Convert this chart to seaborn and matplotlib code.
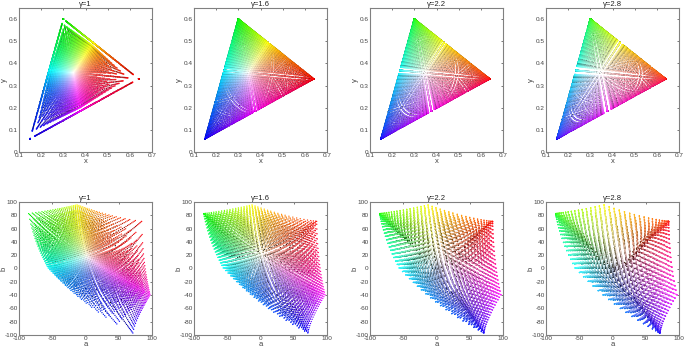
import numpy as np
import pandas as pd
import matplotlib
matplotlib.use("Agg")
import matplotlib.pyplot as plt
import seaborn as sns

rgb_levels = [0, 13, 26, 38, 51, 64, 77, 89, 102, 115, 128, 140, 153, 166, 179, 191, 204, 217, 230, 242, 255]
gammas = [1, 1.6, 2.2, 2.8]
gamma_labels = ["γ=1", "γ=1.6", "γ=2.2", "γ=2.8"]

# corners of the triangle and white point as read from the top row
red_xy = [0.64, 0.33]
green_xy = [0.30, 0.60]
blue_xy = [0.15, 0.06]
white_xy = [0.345, 0.358]
lab_white = [0.9505, 1.0, 1.089]

xy_xticks = [0.1, 0.2, 0.3, 0.4, 0.5, 0.6, 0.7]
xy_yticks = [0, 0.1, 0.2, 0.3, 0.4, 0.5, 0.6]
ab_xticks = [-100, -50, 0, 50, 100]
ab_yticks = [-100, -80, -60, -40, -20, 0, 20, 40, 60, 80, 100]

left_edges = [19, 194, 370, 546]
AX_W = 133
AX_H = 144
AX_H2 = 133
FIG_W = 685
FIG_H = 350


def rgb_to_xyz_matrix():
    """
    Matrix from linear RGB to XYZ, built from the primaries and the white point
    """
    prim = np.array([red_xy, green_xy, blue_xy])
    m = np.column_stack([prim[:, 0] / prim[:, 1], np.ones(3), (1 - prim.sum(axis=1)) / prim[:, 1]]).T
    w = np.array([white_xy[0] / white_xy[1], 1, (1 - sum(white_xy)) / white_xy[1]])
    return m * np.linalg.solve(m, w)


def lab_f(t):
    return np.where(t > 0.008856, np.cbrt(t), 7.787 * t + 16 / 116)


def make_points(gamma):
    """
    One row per cube point: xy, ab and the colour it is drawn with
    """
    r, g, b = np.meshgrid(rgb_levels, rgb_levels, rgb_levels, indexing="ij")
    rgb = np.column_stack([r.ravel(), g.ravel(), b.ravel()]) / 255
    rgb = rgb[rgb.sum(axis=1) > 0]
    rgb = rgb[np.argsort(rgb.sum(axis=1), kind="stable")]
    xyz = (rgb ** gamma) @ rgb_to_xyz_matrix().T
    total = xyz.sum(axis=1)
    fx = lab_f(xyz[:, 0] / lab_white[0])
    fy = lab_f(xyz[:, 1] / lab_white[1])
    fz = lab_f(xyz[:, 2] / lab_white[2])
    df = pd.DataFrame({
        "x": xyz[:, 0] / total,
        "y": xyz[:, 1] / total,
        "a": 500 * (fx - fy),
        "b": 200 * (fy - fz),
    })
    return df, rgb


def style_ax(ax, xlabel, ylabel, xticks, yticks, xlim, ylim, title):
    ax.set_xlim(xlim)
    ax.set_ylim(ylim)
    ax.set_xticks(xticks)
    ax.set_yticks(yticks)
    ax.set_xticklabels([f"{t:g}" for t in xticks])
    ax.set_yticklabels([f"{t:g}" for t in yticks])
    ax.set_xlabel(xlabel, fontsize=5.5, color="#444444", labelpad=0)
    ax.set_ylabel(ylabel, fontsize=5.5, color="#444444")
    ax.yaxis.set_label_coords(-11 / AX_W, 0.5)
    ax.set_title(title, fontsize=5.5, color="#222222", pad=1.5)
    ax.tick_params(direction="in", length=1.5, width=0.5, labelsize=4.6,
                   colors="#444444", top=True, right=True, pad=1)
    for s in ax.spines.values():
        s.set_color("#808080")
        s.set_linewidth(0.8)


sns.set_theme(style="white")
plt.rcParams["font.family"] = ["Liberation Sans", "DejaVu Sans"]

fig = plt.figure(figsize=(FIG_W / 100, FIG_H / 100), dpi=100)
for i, gamma in enumerate(gammas):
    df, colors = make_points(gamma)

    ax = fig.add_axes([left_edges[i] / FIG_W, 1 - 152 / FIG_H, AX_W / FIG_W, AX_H / FIG_H])
    sns.scatterplot(data=df, x="x", y="y", c=colors, s=1.2, linewidth=0, ax=ax)
    style_ax(ax, "x", "y", xy_xticks, xy_yticks, (0.1, 0.7), (0, 0.65), gamma_labels[i])

    ax = fig.add_axes([left_edges[i] / FIG_W, 1 - 335 / FIG_H, AX_W / FIG_W, AX_H2 / FIG_H])
    sns.scatterplot(data=df, x="a", y="b", c=colors, s=0.9, linewidth=0, ax=ax)
    style_ax(ax, "a", "b", ab_xticks, ab_yticks, (-100, 100), (-100, 100), gamma_labels[i])

fig.savefig("out.png", dpi=100)
